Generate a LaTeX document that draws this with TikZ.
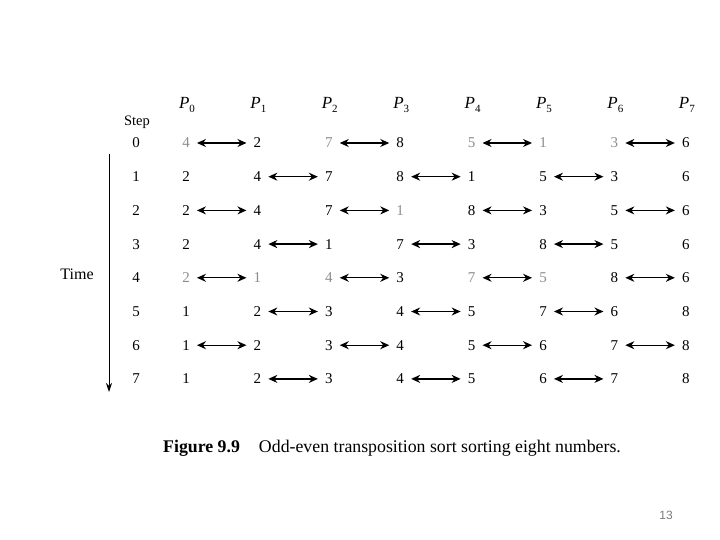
\documentclass[tikz,border=0pt]{standalone}
\usepackage{fontspec}
\setmainfont{Liberation Serif}
\newfontfamily\pagefont{Liberation Sans}
\usetikzlibrary{arrows.meta, positioning}
\definecolor{inkgray}{HTML}{8C8C8C}
\definecolor{pagegray}{HTML}{7A7A7A}
\newcommand{\proclbl}[1]{\textit{P}\raisebox{-4pt}{\fontsize{11}{13}\selectfont #1}}

\begin{document}
\begin{tikzpicture}[x=1pt, y=-1pt,
    num/.style={inner sep=0pt, anchor=base, text height=10pt, text depth=0pt, font=\fontsize{15}{18}\selectfont},
    proc/.style={inner sep=0pt, anchor=base, font=\fontsize{17}{20}\selectfont},
    swap/.style={{Stealth[length=9pt,width=8pt]}-{Stealth[length=9pt,width=8pt]}, line width=1.3pt, shorten <=7pt, shorten >=7pt}]

  \useasboundingbox (0,0) rectangle (720,540);

  % processor labels
  \foreach \c in {0,...,7}
    \node[proc] (p\c) at (187+71.4*\c, 109) {\proclbl{\c}};
  \node[num, font=\fontsize{14.5}{17}\selectfont] (steplbl) at (137, 126) {Step};

  % values at each step (k = black, g = faint)
  \foreach \r/\vals in {
      0/{4/g,2/k,7/g,8/k,5/g,1/g,3/g,6/k},
      1/{2/k,4/k,7/k,8/k,1/k,5/k,3/k,6/k},
      2/{2/k,4/k,7/k,1/g,8/k,3/k,5/k,6/k},
      3/{2/k,4/k,1/k,7/k,3/k,8/k,5/k,6/k},
      4/{2/g,1/g,4/g,3/k,7/g,5/g,8/k,6/k},
      5/{1/k,2/k,3/k,4/k,5/k,7/k,6/k,8/k},
      6/{1/k,2/k,3/k,4/k,5/k,6/k,7/k,8/k},
      7/{1/k,2/k,3/k,4/k,5/k,6/k,7/k,8/k}} {
    \node[num] (s\r) at (136, 148+33.7*\r) {\r};
    \foreach \v/\t [count=\c from 0] in \vals {
      \if\t g\def\tone{inkgray}\else\def\tone{black}\fi
      \node[num, text=\tone] (v\r-\c) at (186+71.4*\c, 148+33.7*\r) {\v};
    }
  }

  % compare-exchange arrows
  \foreach \r in {0,2,4,6}
    \foreach \c in {0,2,4,6} {
      \pgfmathtruncatemacro\d{\c+1}
      \draw[swap] (v\r-\c) -- (v\r-\d);
    }
  \foreach \r in {1,3,5,7}
    \foreach \c in {1,3,5} {
      \pgfmathtruncatemacro\d{\c+1}
      \draw[swap] (v\r-\c) -- (v\r-\d);
    }

  % time axis
  \coordinate (ttop) at (109, 154);
  \coordinate (tbot) at (109, 392);
  \draw[line width=1pt, -{Stealth[length=9pt,width=6pt]}] (ttop) -- (tbot);
  \node[num, font=\fontsize{16}{19}\selectfont] (time) at (77, 279) {Time};

  % caption
  \node[anchor=west, inner sep=0pt, font=\fontsize{17.8}{21}\selectfont] (cap) at (163, 448)
    {\textbf{Figure 9.9}\hspace{19pt}Odd-even transposition sort sorting eight numbers.};

  % slide number
  \node[inner sep=0pt, text=pagegray, font=\pagefont\fontsize{12}{14}\selectfont] (pgno) at (666, 515) {13};
\end{tikzpicture}
\end{document}
